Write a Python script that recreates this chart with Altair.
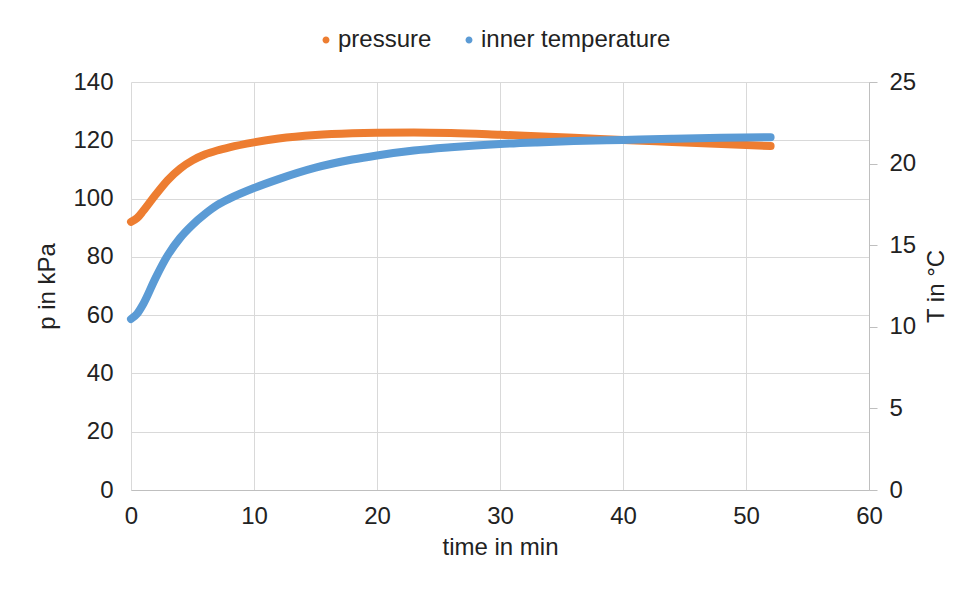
import altair as alt
import pandas as pd

ORANGE = "#ED7D31"
BLUE = "#5B9BD5"
TEXT = "#222222"
GRID = "#D9D9D9"
AXIS = "#BFBFBF"

# pressure (kPa) over time (min)
time_p = [0, 0.5, 1, 2, 3, 4, 5, 6, 7, 8, 10, 12, 15, 18, 20, 23, 26, 30, 33, 36, 40, 44, 48, 52]
pressure = [92.0, 93.3, 95.8, 101.3, 106.4, 110.3, 113.1, 115.1, 116.5, 117.6, 119.3, 120.6,
            121.8, 122.4, 122.6, 122.7, 122.5, 121.9, 121.4, 120.9, 120.1, 119.4, 118.7, 118.0]

# inner temperature (°C) over time (min)
time_T = [0, 0.5, 1, 2, 3, 4, 5, 6, 7, 8, 10, 12, 15, 18, 20, 23, 26, 30, 33, 36, 40, 44, 48, 52]
temperature = [10.48, 10.8, 11.4, 13.0, 14.4, 15.45, 16.25, 16.9, 17.45, 17.85, 18.5, 19.05,
               19.75, 20.25, 20.5, 20.8, 21.0, 21.2, 21.3, 21.38, 21.45, 21.52, 21.58, 21.62]

series_names = ["pressure", "inner temperature"]
x_ticks = [0, 10, 20, 30, 40, 50, 60]
p_ticks = [0, 20, 40, 60, 80, 100, 120, 140]
T_ticks = [0, 5, 10, 15, 20, 25]

df_p = pd.DataFrame({"time": time_p, "value": pressure, "series": series_names[0]})
df_T = pd.DataFrame({"time": time_T, "value": temperature, "series": series_names[1]})

FS = 24

color = alt.Color(
    "series:N",
    scale=alt.Scale(domain=series_names, range=[ORANGE, BLUE]),
    legend=alt.Legend(
        title=None, orient="none", direction="horizontal",
        legendX=183, legendY=-54,
        symbolType="circle", symbolSize=12, symbolStrokeWidth=3.5,
        labelFontSize=FS, labelColor=TEXT, labelOffset=0, labelLimit=0,
        columnPadding=25, symbolOffset=0,
    ),
)

x_enc = alt.X(
    "time:Q",
    scale=alt.Scale(domain=[0, 60], nice=False, zero=False),
    axis=alt.Axis(
        values=x_ticks, title="time in min", grid=True, gridColor=GRID,
        domainColor=AXIS, ticks=False, labelFontSize=FS, titleFontSize=FS,
        labelColor=TEXT, titleColor=TEXT, titleFontWeight="normal",
        labelPadding=14, titlePadding=7, labelFlush=False,
    ),
)

line_kw = dict(strokeWidth=8, strokeCap="round", strokeJoin="round", interpolate="monotone")

p_layer = alt.Chart(df_p).mark_line(**line_kw).encode(
    x=x_enc,
    y=alt.Y(
        "value:Q",
        scale=alt.Scale(domain=[0, 140], nice=False),
        axis=alt.Axis(
            orient="left", values=p_ticks, title="p in kPa", grid=True, gridColor=GRID,
            domain=False, ticks=False, labelFontSize=FS, titleFontSize=FS,
            labelColor=TEXT, titleColor=TEXT, titleFontWeight="normal",
            labelPadding=18, titlePadding=13, labelFlush=False,
        ),
    ),
    color=color,
)

T_layer = alt.Chart(df_T).mark_line(**line_kw).encode(
    x=x_enc,
    y=alt.Y(
        "value:Q",
        scale=alt.Scale(domain=[0, 25], nice=False),
        axis=alt.Axis(
            orient="right", values=T_ticks, title="T in °C", grid=False,
            domain=True, domainColor=AXIS, ticks=True, tickColor=AXIS, tickSize=8,
            labelFontSize=FS, titleFontSize=FS, labelColor=TEXT, titleColor=TEXT,
            titleFontWeight="normal", labelPadding=12, titlePadding=33, titleAngle=270,
            labelFlush=False,
        ),
    ),
    color=color,
)

chart = (
    alt.layer(p_layer, T_layer)
    .resolve_scale(y="independent")
    .properties(
        width=738, height=408,
        autosize=alt.AutoSizeParams(type="none"),
        padding={"left": 123, "top": 74, "right": 89, "bottom": 91},
    )
    .configure(font="Liberation Sans")
    .configure_view(stroke=None)
)

chart.save("out.html", embed_options={"renderer": "svg", "actions": False})
